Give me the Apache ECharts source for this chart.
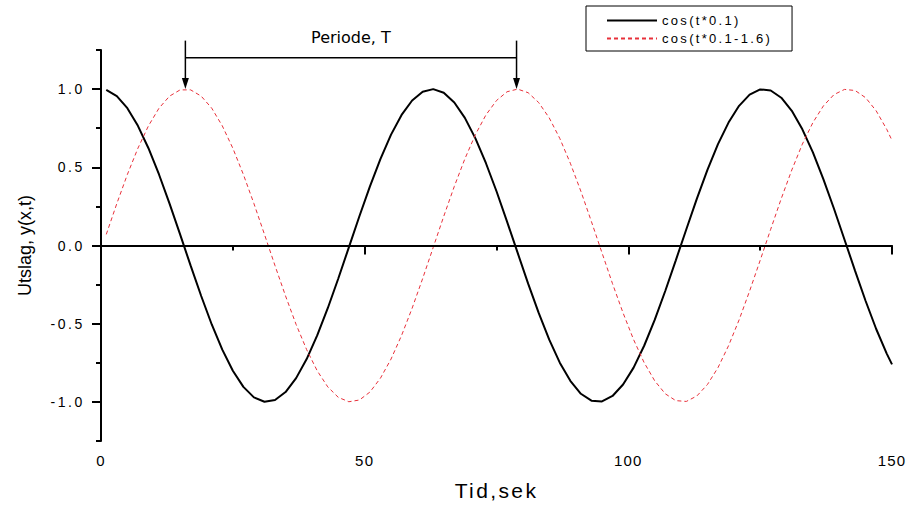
<!DOCTYPE html>
<html>
<head>
<meta charset="utf-8">
<script src="https://cdn.jsdelivr.net/npm/echarts@6/dist/echarts.min.js"></script>
<style>
  html, body { margin: 0; padding: 0; background: #fff; }
  #chart { width: 909px; height: 508px; }
</style>
</head>
<body>
<div id="chart"></div>
<script>
// ---- data ----
const times = [1,3,5,7,9,11,13,15,17,19,21,23,25,27,29,31,33,35,37,39,41,43,45,47,49,51,53,55,57,59,61,63,65,67,69,71,73,75,77,79,81,83,85,87,89,91,93,95,97,99,101,103,105,107,109,111,113,115,117,119,121,123,125,127,129,131,133,135,137,139,141,143,145,147,149,150];
const cosValues = [0.995,0.955,0.878,0.765,0.622,0.454,0.268,0.071,-0.129,-0.323,
  -0.505,-0.666,-0.801,-0.904,-0.971,-0.999,-0.988,-0.937,-0.848,-0.726,
  -0.575,-0.401,-0.211,-0.012,0.187,0.378,0.554,0.709,0.835,0.927,
  0.983,1.000,0.977,0.914,0.816,0.685,0.526,0.347,0.153,-0.046,
  -0.244,-0.431,-0.602,-0.749,-0.865,-0.948,-0.992,-0.997,-0.962,-0.889,
  -0.781,-0.641,-0.476,-0.291,-0.095,0.104,0.300,0.483,0.648,0.786,
  0.893,0.965,0.998,0.991,0.945,0.861,0.743,0.595,0.423,0.235,
  0.037,-0.162,-0.355,-0.534,-0.691,-0.760];
const shiftedValues = [0.071,0.268,0.454,0.622,0.765,0.878,0.955,0.995,0.995,0.955,
  0.878,0.765,0.622,0.454,0.268,0.071,-0.129,-0.323,-0.505,-0.666,
  -0.801,-0.904,-0.971,-0.999,-0.988,-0.937,-0.848,-0.726,-0.575,-0.401,
  -0.211,-0.012,0.187,0.378,0.554,0.709,0.835,0.927,0.983,1.000,
  0.977,0.914,0.816,0.685,0.526,0.347,0.153,-0.046,-0.244,-0.431,
  -0.602,-0.749,-0.865,-0.948,-0.992,-0.997,-0.962,-0.889,-0.781,-0.641,
  -0.476,-0.291,-0.095,0.104,0.300,0.483,0.648,0.786,0.893,0.965,
  0.998,0.991,0.945,0.861,0.743,0.672];
const seriesNames = ['cos(t*0.1)', 'cos(t*0.1-1.6)'];
const xTickValues = [0, 50, 100, 150];
const xMinorTicks = [25, 75, 125];
const yTickValues = [-1.0, -0.5, 0.0, 0.5, 1.0];
const yMinorTicks = [-1.25, -0.75, -0.25, 0.25, 0.75, 1.25];
const periodMarks = [16, 78.8];   // red peaks bracketing one period
const periodLabel = 'Periode, T';
const xName = 'Tid,sek';
const yName = 'Utslag, y(x,t)';

// ---- chart ----
const FONT = '"Liberation Sans", Arial, sans-serif';
const chart = echarts.init(document.getElementById('chart'), null, { renderer: 'svg' });

const tickStyle = { color: '#000', width: 2 };
const option = {
  animation: false,
  backgroundColor: '#fff',
  grid: { left: 101, right: 17, top: 50, bottom: 67 },
  legend: {
    orient: 'vertical', left: 586, top: 6,
    padding: [8, 52, 6, 20],
    itemWidth: 50, itemHeight: 14, itemGap: 5,
    borderColor: '#000', borderWidth: 1,
    selectedMode: false,
    itemStyle: { opacity: 0 },
    textStyle: { fontFamily: FONT, fontSize: 13, color: '#000' },
    data: seriesNames
  },
  xAxis: [{
    type: 'value', min: 0, max: 150,
    name: xName, nameLocation: 'middle', nameGap: 39,
    nameTextStyle: { fontFamily: FONT, fontSize: 21, color: '#000' },
    axisLine: { lineStyle: tickStyle },
    axisTick: { customValues: xTickValues, length: 9, lineStyle: tickStyle },
    axisLabel: { customValues: xTickValues, margin: 12, color: '#000', fontFamily: FONT, fontSize: 15 },
    splitLine: { show: false }
  }, {
    type: 'value', min: 0, max: 150, position: 'bottom',
    axisLine: { show: false },
    axisTick: { customValues: xMinorTicks, length: 5, lineStyle: tickStyle },
    axisLabel: { show: false },
    splitLine: { show: false }
  }],
  yAxis: [{
    type: 'value', min: -1.25, max: 1.25,
    name: yName, nameLocation: 'middle', nameGap: 67,
    nameTextStyle: { fontFamily: FONT, fontSize: 18, color: '#000' },
    axisLine: { onZero: false, lineStyle: tickStyle },
    axisTick: { customValues: yTickValues, length: 9, lineStyle: tickStyle },
    axisLabel: { customValues: yTickValues, margin: 16, color: '#000', fontFamily: FONT, fontSize: 14,
                 formatter: v => v.toFixed(1) },
    splitLine: { show: false }
  }, {
    type: 'value', min: -1.25, max: 1.25, position: 'left',
    axisLine: { show: false },
    axisTick: { customValues: yMinorTicks, length: 5, lineStyle: tickStyle },
    axisLabel: { show: false },
    splitLine: { show: false }
  }],
  series: [{
    name: seriesNames[0], type: 'line', xAxisIndex: 0, yAxisIndex: 0,
    data: times.map((t, i) => [t, cosValues[i]]),
    symbol: 'none', smooth: false,
    lineStyle: { color: '#000', width: 2 }, itemStyle: { color: '#000' },
    markLine: {
      silent: true, symbol: 'none', label: { show: false },
      lineStyle: { color: '#000', width: 2, type: 'solid' },
      data: [{ yAxis: 0 }]
    }
  }, {
    name: seriesNames[1], type: 'line', xAxisIndex: 0, yAxisIndex: 0,
    data: times.map((t, i) => [t, shiftedValues[i]]),
    symbol: 'none', smooth: false,
    lineStyle: { color: '#e8303a', width: 1, type: [4, 3] }, itemStyle: { color: '#e8303a' }
  }]
};
chart.setOption(option);

// ---- period annotation, placed through the axes ----
const toPx = (x, y) => chart.convertToPixel({ gridIndex: 0 }, [x, y]);
const arrowTopY = 1.31, bracketY = 1.2, peakY = 1.0, labelY = 1.33;
const g = [];
periodMarks.forEach(m => {
  const top = toPx(m, arrowTopY), tip = toPx(m, peakY);
  g.push({ type: 'line', shape: { x1: top[0], y1: top[1], x2: tip[0], y2: tip[1] - 9 },
           style: { stroke: '#000', lineWidth: 1.5 } });
  g.push({ type: 'polygon', shape: { points: [[tip[0] - 3.5, tip[1] - 11], [tip[0] + 3.5, tip[1] - 11], [tip[0], tip[1]]] },
           style: { fill: '#000' } });
});
const b0 = toPx(periodMarks[0], bracketY), b1 = toPx(periodMarks[1], bracketY);
g.push({ type: 'line', shape: { x1: b0[0], y1: b0[1], x2: b1[0], y2: b1[1] }, style: { stroke: '#000', lineWidth: 1.5 } });
const lp = toPx((periodMarks[0] + periodMarks[1]) / 2, labelY);
g.push({ type: 'text', x: lp[0], y: lp[1],
         style: { text: periodLabel, font: '16px "DejaVu Sans"', fill: '#000', align: 'center', verticalAlign: 'middle',
                  textAlign: 'center', textVerticalAlign: 'middle' } });
chart.setOption({ graphic: g });

// ---- letter spacing like the original export ----
const spacing = {};
yTickValues.forEach(v => spacing[v.toFixed(1)] = 2.6);
xTickValues.forEach(v => spacing[String(v)] = 1.2);
seriesNames.forEach(n => spacing[n] = 2.3);
spacing[xName] = 2.4;
function applySpacing() {
  document.querySelectorAll('#chart text').forEach(t => {
    const s = spacing[t.textContent];
    if (s) t.setAttribute('letter-spacing', s + 'px');
  });
}
chart.on('finished', applySpacing);
applySpacing();
setTimeout(applySpacing, 50);
</script>
</body>
</html>
